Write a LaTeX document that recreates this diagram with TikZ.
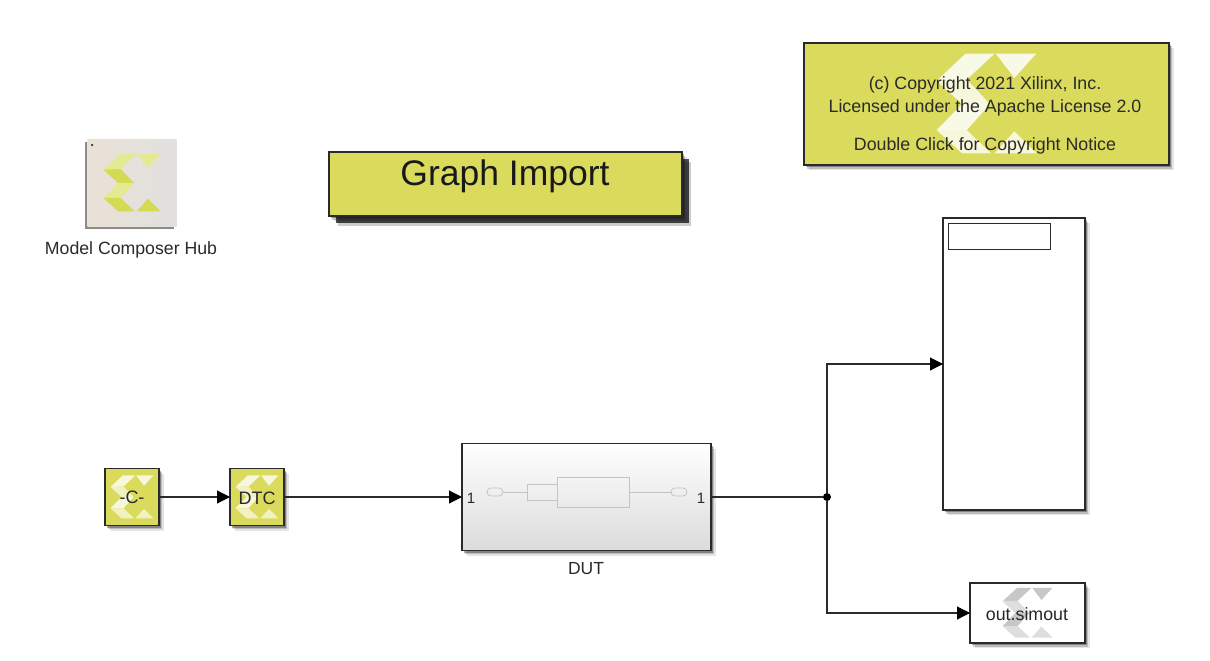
\documentclass[tikz,border=0pt]{standalone}
\usepackage{fontspec}
\setmainfont{Liberation Sans}
\usetikzlibrary{arrows.meta, positioning, shadows}

\definecolor{blockyellow}{HTML}{DADA5C}
\definecolor{inkdark}{HTML}{2A2A2A}
\definecolor{thumbgrey}{HTML}{C4C4C4}
\definecolor{hubpale}{HTML}{E4E994}
\definecolor{hubdeep}{HTML}{D4DB52}
\definecolor{hubleft}{HTML}{E9E1D6}
\definecolor{hubright}{HTML}{E2E1DE}

% Six pieces of the logo, drawn round the origin of the current scope
\newcommand{\xlogo}[2]{%
    \fill[#1] (-86,-40) -- (-36,-87) -- (14,-87) -- (-34,-42) -- cycle;
    \fill[#2] (-86,-40) -- (-34,-42) -- (6,0) -- (-42,0) -- cycle;
    \fill[#1] (-42,0) -- (6,0) -- (-34,45) -- (-86,45) -- cycle;
    \fill[#2] (-86,45) -- (-34,45) -- (8,85) -- (-42,85) -- cycle;
    \fill[#2] (14,85) -- (48,47) -- (86,85) -- cycle;
    \fill[#1] (16,-87) -- (86,-87) -- (48,-45) -- cycle;
}

\tikzset{
    softshadow/.style={
        general shadow={fill=black,opacity=.10,shadow xshift=4.5pt,shadow yshift=-5pt},
        general shadow={fill=black,opacity=.18,shadow xshift=3pt,shadow yshift=-3.5pt},
        general shadow={fill=black,opacity=.30,shadow xshift=1.5pt,shadow yshift=-2pt}},
    box/.style={shape=rectangle,draw=inkdark,line width=1.2pt,inner sep=0pt,outer sep=0pt,softshadow},
    txt/.style={font=\fontsize{18}{20}\selectfont,text=inkdark,inner sep=0pt},
    wire/.style={draw=inkdark,line width=1.1pt},
    arrow/.style={wire,-{Triangle[length=13pt,width=13pt,color=black]}},
    thumb/.style={shape=rectangle,draw=thumbgrey,line width=.8pt,inner sep=0pt,outer sep=0pt},
    port/.style={thumb,rounded corners=4pt,minimum width=16pt,minimum height=8pt},
    logoin/.style={shift={(path picture bounding box.center)},x=#1pt,y=-#1pt},
    logoblock/.style={box,fill=blockyellow,minimum width=54pt,minimum height=57pt,
        path picture={\begin{scope}[logoin=.25]
            \xlogo{white!78!blockyellow}{white!62!blockyellow}\end{scope}}},
}

\begin{document}
\begin{tikzpicture}[x=1pt,y=-1pt]
    \useasboundingbox (0,0) rectangle (1210,661);

    % Hub block
    \node[shape=rectangle,inner sep=0pt,outer sep=0pt,minimum width=89pt,minimum height=87pt,
        left color=hubleft,right color=hubright,
        general shadow={fill=black!45,shadow xshift=-2.5pt,shadow yshift=-2.5pt},
        path picture={\begin{scope}[logoin=.333]
            \xlogo{hubpale}{hubdeep}\end{scope}}] (hub) at (132,183) {};
    \node[shape=circle,fill=inkdark,minimum size=2.5pt,inner sep=0pt] (hubdot) at (92,145) {};
    \node[txt,font=\fontsize{17.7}{20}\selectfont] (hubname) at (131,250) {Model Composer Hub};

    % Title and notice
    \node[box,fill=blockyellow,minimum width=353pt,minimum height=64pt,
        general shadow={fill=black,opacity=.2,shadow xshift=9pt,shadow yshift=-9.5pt},
        general shadow={fill=black,opacity=.7,shadow xshift=6.5pt,shadow yshift=-6.5pt}] (title) at (505.5,184) {};
    \node[txt,font=\fontsize{35.5}{40}\selectfont,text=black!90] (titletext) at (505,176) {Graph Import};
    \node[box,fill=blockyellow,minimum width=365pt,minimum height=122pt,
        path picture={\begin{scope}[logoin=.58]
            \xlogo{white!85!blockyellow}{white!78!blockyellow}\end{scope}}] (notice) at (986.5,104) {};
    \node[txt,font=\fontsize{17.8}{20}\selectfont,align=center] (noticetext) at (985,115) {(c) Copyright 2021 Xilinx, Inc.\\[3pt]
        Licensed under the Apache License 2.0\\[18pt]Double Click for Copyright Notice};

    % Signal chain
    \node[logoblock] (const) at (132,497) {};
    \node[txt] (consttext) at (132,497) {-C-};
    \node[logoblock] (dtc) at (257,497) {};
    \node[txt] (dtctext) at (257,498) {DTC};
    \node[box,minimum width=249pt,minimum height=107pt,top color=white,middle color=white,bottom color=black!14] (dut) at (586.5,497) {};
    \node[txt,font=\fontsize{17.5}{20}\selectfont] (dutname) at (586,569) {DUT};
    \node[txt,font=\fontsize{15}{18}\selectfont] (dutin) at (471,498) {1};
    \node[txt,font=\fontsize{15}{18}\selectfont] (dutout) at (701,498) {1};

    % Thumbnail inside DUT
    \node[port] (thumbin) at (495,492) {};
    \node[thumb,minimum width=30pt,minimum height=16pt] (thumbsmall) at (542,492) {};
    \node[thumb,minimum width=72pt,minimum height=30pt] (thumbbig) at (593,492) {};
    \node[port] (thumbout) at (679,492) {};
    \draw[thumb] (thumbin) -- (thumbsmall);
    \draw[thumb] (thumbbig) -- (thumbout);

    % Sinks
    \node[box,fill=white,minimum width=142pt,minimum height=292pt] (scope) at (1014,364) {};
    \node[shape=rectangle,draw=inkdark,line width=1pt,inner sep=0pt,fill=white,minimum width=102.5pt,minimum height=26pt] (scopebar) at (999.5,236) {};
    \node[box,fill=white,minimum width=115pt,minimum height=60pt,
        path picture={\begin{scope}[logoin=.29]
            \xlogo{black!22}{black!13}\end{scope}}] (sink) at (1027.5,613) {};
    \node[txt,text=black!85,font=\fontsize{17.8}{20}\selectfont] (sinktext) at (1027,614) {out.simout};

    % Draw edges
    \node[shape=circle,fill=black,minimum size=8pt,inner sep=0pt] (branch) at (827,497) {};
    \coordinate (scopein) at (943,364);
    \draw[arrow] (const) -- (dtc);
    \draw[arrow] (dtc) -- (dut);
    \draw[wire] (dut) -- (branch);
    \draw[arrow] (branch) |- (scopein);
    \draw[arrow] (branch) |- (sink);

\end{tikzpicture}
\end{document}
